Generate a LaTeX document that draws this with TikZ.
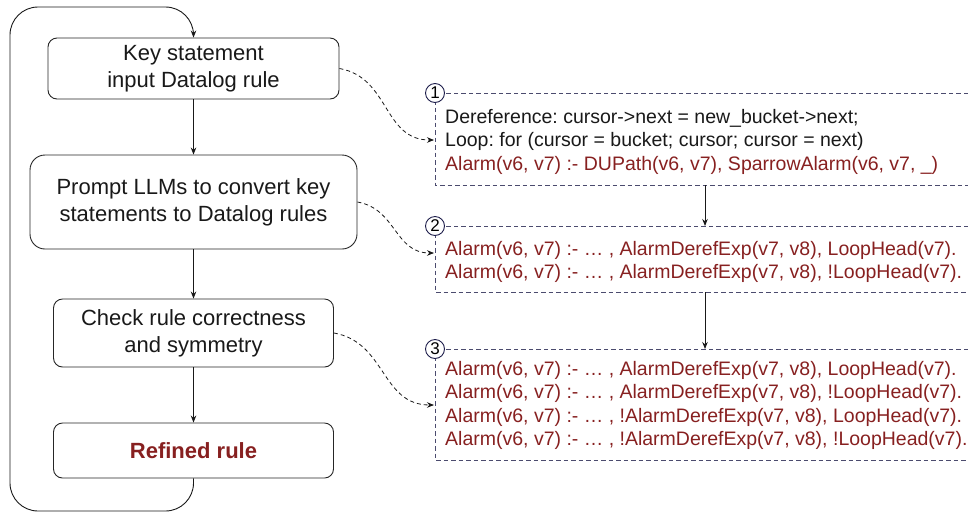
\documentclass[tikz,border=0pt]{standalone}
\usepackage{fontspec}
\setmainfont{Liberation Sans}
\usetikzlibrary{arrows.meta}
\definecolor{rulered}{RGB}{135,32,32}
\definecolor{dashblue}{RGB}{75,75,110}
\definecolor{circblue}{RGB}{30,30,75}
\frenchspacing
\begin{document}
\begin{tikzpicture}[x=1pt,y=-1pt,
  stepbox/.style={draw=black!85, line width=0.9pt, rounded corners=9pt, inner sep=0pt, align=center, font=\fontsize{22}{27}\selectfont, text=black!90},
  rline/.style={anchor=base west, inner sep=0pt, font=\fontsize{19.5}{23.5}\selectfont, text=rulered},
  bline/.style={rline, text=black!90},
  dbox/.style={draw=dashblue, line width=0.9pt, dash pattern=on 4.5pt off 3pt},
  numc/.style={circle, draw=circblue, fill=white, line width=0.9pt, minimum size=19pt, inner sep=0pt, font=\fontsize{17}{17}\selectfont},
  flow/.style={-{Stealth[length=7pt,width=5.5pt]}, line width=0.9pt, draw=black!90},
  dflow/.style={-{Stealth[length=7pt,width=5.5pt]}, line width=0.8pt, dash pattern=on 4pt off 3pt, draw=black!90},
]
\useasboundingbox (0,0) rectangle (968,512);

% left flow boxes
\node[stepbox, minimum width=291pt, minimum height=61pt] (k) at (193.5,68.5) {Key statement\\input Datalog rule};
\node[stepbox, minimum width=327pt, minimum height=94pt, rounded corners=15pt] (p) at (193.5,202) {Prompt LLMs to convert key\\statements to Datalog rules};
\node[stepbox, minimum width=280pt, minimum height=68pt] (c) at (193.5,333) {Check rule correctness\\and symmetry};
\node[stepbox, minimum width=280pt, minimum height=55pt, font=\fontsize{22}{27}\selectfont\bfseries, text=rulered] (r) at (193.5,450.5) {Refined rule};

\draw[flow] (k.south) -- (p.north);
\draw[flow] (p.south) -- (c.north);
\draw[flow] (c.south) -- (r.north);
\draw[flow, rounded corners=28pt] (r.south) -- (193.5,511) -- (10,511) -- (10,7) -- (193.5,7) -- (k.north);

% dashed boxes
\draw[dbox] (968,93) -- (435,93) -- (435,185) -- (968,185);
\draw[dbox] (968,226) -- (435,226) -- (435,292) -- (968,292);
\draw[dbox] (968,349) -- (435,349) -- (435,460) -- (968,460);
\node[numc] (n1) at (435,93) {1};
\node[numc] (n2) at (435,226) {2};
\node[numc] (n3) at (435,349) {3};

% box 1 text
\node[bline] (t11) at (445,123) {Dereference: cursor->next = new\_bucket->next;};
\node[bline] (t12) at (445,146.5) {Loop: for (cursor = bucket; cursor; cursor = next)};
\node[rline] (t13) at (445,170) {Alarm(v6, v7) :- DUPath(v6, v7), SparrowAlarm(v6, v7, \_)};

% box 2 text
\node[rline] (t21) at (445,255) {Alarm(v6, v7) :- … , AlarmDerefExp(v7, v8), LoopHead(v7).};
\node[rline] (t22) at (445,278.5) {Alarm(v6, v7) :- … , AlarmDerefExp(v7, v8), !LoopHead(v7).};

% box 3 text
\node[rline] (t31) at (445,375) {Alarm(v6, v7) :- … , AlarmDerefExp(v7, v8), LoopHead(v7).};
\node[rline] (t32) at (445,398.5) {Alarm(v6, v7) :- … , AlarmDerefExp(v7, v8), !LoopHead(v7).};
\node[rline] (t33) at (445,422) {Alarm(v6, v7) :- … , !AlarmDerefExp(v7, v8), LoopHead(v7).};
\node[rline] (t34) at (445,445.5) {Alarm(v6, v7) :- … , !AlarmDerefExp(v7, v8), !LoopHead(v7).};

% vertical arrows between dashed boxes
\coordinate (a1s) at (705,185);
\coordinate (a1e) at (705,226);
\coordinate (a2s) at (705,292);
\coordinate (a2e) at (705,349);
\draw[flow] (a1s) -- (a1e);
\draw[flow] (a2s) -- (a2e);

% dashed curved arrows
\coordinate (e1) at (434,140);
\coordinate (e2) at (434,253);
\coordinate (e3) at (434,405);
\draw[dflow] (k.east) to[out=-10, in=180, looseness=1.1] (e1);
\draw[dflow] (p.east) to[out=-10, in=180, looseness=1.1] (e2);
\draw[dflow] (c.east) to[out=-10, in=180, looseness=1.1] (e3);
\end{tikzpicture}
\end{document}
